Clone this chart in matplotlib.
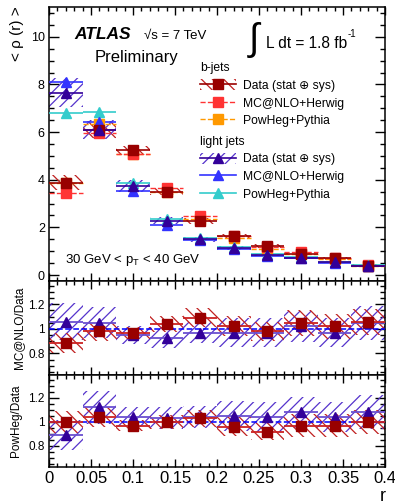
import matplotlib
matplotlib.use("Agg")
import matplotlib.pyplot as plt
import numpy as np
from matplotlib.lines import Line2D
from matplotlib.patches import Patch
from matplotlib.ticker import MultipleLocator, FuncFormatter

plt.rcParams["font.family"] = ["Liberation Sans", "DejaVu Sans"]
plt.rcParams["hatch.linewidth"] = 0.9
plt.rcParams["axes.linewidth"] = 1.1

# bins in r
edges = [0.0, 0.04, 0.08, 0.12, 0.16, 0.20, 0.24, 0.28, 0.32, 0.36, 0.40]

# b-jets, top panel
b_data = [3.88, 6.10, 5.23, 3.50, 2.28, 1.62, 1.21, 0.90, 0.70, 0.40]
b_err = [0.30, 0.35, 0.20, 0.15, 0.12, 0.10, 0.08, 0.07, 0.06, 0.05]
b_mcnlo = [3.43, 5.98, 5.07, 3.64, 2.49, 1.65, 1.19, 0.95, 0.71, 0.42]
b_powheg = [3.88, 6.34, 5.07, 3.50, 2.35, 1.56, 1.11, 0.87, 0.68, 0.40]

# light jets, top panel
l_data = [7.65, 6.10, 3.72, 2.28, 1.50, 1.12, 0.84, 0.71, 0.54, 0.38]
l_err = [0.60, 0.40, 0.25, 0.15, 0.10, 0.08, 0.06, 0.05, 0.04, 0.03]
l_mcnlo = [8.11, 6.41, 3.53, 2.12, 1.46, 1.09, 0.81, 0.72, 0.52, 0.40]
l_powheg = [6.81, 6.83, 3.87, 2.35, 1.56, 1.18, 0.87, 0.77, 0.56, 0.41]

# ratio panels
b_ratio_mcnlo = [0.885, 0.98, 0.97, 1.04, 1.09, 1.02, 0.98, 1.05, 1.02, 1.06]
l_ratio_mcnlo = [1.06, 1.05, 0.95, 0.93, 0.97, 0.97, 0.97, 1.02, 0.97, 1.05]
b_ratio_powheg = [1.00, 1.04, 0.97, 1.00, 1.03, 0.96, 0.92, 0.97, 0.97, 1.00]
l_ratio_powheg = [0.89, 1.12, 1.04, 1.03, 1.04, 1.05, 1.04, 1.08, 1.04, 1.08]
# relative half-width of the hatched bands in the ratio panels
b_rel = [0.09, 0.08, 0.05, 0.06, 0.07, 0.08, 0.08, 0.10, 0.10, 0.10]
l_rel = [0.14, 0.12, 0.08, 0.09, 0.09, 0.12, 0.12, 0.12, 0.12, 0.13]

c_bdata = "#990000"
c_bband = "#c02020"
c_bmc = "#ff3333"
c_bpow = "#ff9900"
c_ldata = "#330099"
c_lband = "#5533cc"
c_lmc = "#3333ff"
c_lpow = "#33cccc"

lo = np.array(edges[:-1])
hi = np.array(edges[1:])
ctr = (lo + hi) / 2
wid = hi - lo

W, H = 395, 504
fig = plt.figure(figsize=(W / 100, H / 100), dpi=100)
ax1 = fig.add_axes([49 / W, 1 - 281 / H, 336 / W, 274 / H])
ax2 = fig.add_axes([49 / W, 1 - 375 / H, 336 / W, 94 / H])
ax3 = fig.add_axes([49 / W, 1 - 467 / H, 336 / W, 92 / H])

HB = "\\\\\\"
HL = "///"


def band(ax, val, err, color, hatch):
    val = np.array(val)
    err = np.array(err)
    ax.bar(ctr, 2 * err, bottom=val - err, width=wid, facecolor="none",
           edgecolor=color, hatch=hatch, linewidth=0, zorder=2)


# top panel
band(ax1, b_data, b_err, c_bband, HB)
band(ax1, l_data, l_err, c_lband, HL)
ax1.hlines(b_powheg, lo, hi, colors=c_bpow, linestyles="--", lw=1.0, zorder=3)
ax1.plot(ctr, b_powheg, "s", color=c_bpow, ms=6.5, zorder=4)
ax1.hlines(b_mcnlo, lo, hi, colors=c_bmc, linestyles="--", lw=1.0, zorder=3)
ax1.plot(ctr, b_mcnlo, "s", color=c_bmc, ms=6.5, zorder=4)
ax1.hlines(l_powheg, lo, hi, colors=c_lpow, lw=1.2, zorder=3)
ax1.plot(ctr, l_powheg, "^", color=c_lpow, ms=6.5, zorder=4)
ax1.hlines(l_mcnlo, lo, hi, colors=c_lmc, lw=1.2, zorder=3)
ax1.plot(ctr, l_mcnlo, "^", color=c_lmc, ms=6.5, zorder=4)
ax1.hlines(b_data, lo, hi, colors=c_bdata, lw=1.2, zorder=5)
ax1.plot(ctr, b_data, "s", color=c_bdata, ms=6.5, zorder=6)
ax1.hlines(l_data, lo, hi, colors=c_ldata, lw=1.2, zorder=5)
ax1.plot(ctr, l_data, "^", color=c_ldata, ms=6.5, zorder=6)
ax1.set_ylim(-0.25, 11.25)


def ratio_panel(ax, b_r, l_r):
    b_r = np.array(b_r)
    l_r = np.array(l_r)
    band(ax, l_r, l_r * np.array(l_rel), c_lband, HL)
    band(ax, b_r, b_r * np.array(b_rel), c_bband, HB)
    ax.axhline(1, color="blue", ls="--", lw=1.1, zorder=3)
    ax.hlines(l_r, lo, hi, colors="#6a4fd0", lw=1.3, zorder=4)
    ax.hlines(b_r, lo, hi, colors="#cc2222", lw=1.3, zorder=4)
    ax.plot(ctr, l_r, "^", color=c_ldata, ms=6.5, zorder=5)
    ax.plot(ctr, b_r, "s", color=c_bdata, ms=6.5, zorder=5)
    ax.set_ylim(0.625, 1.39)
    ax.yaxis.set_major_locator(MultipleLocator(0.2))
    ax.yaxis.set_minor_locator(MultipleLocator(0.05))


ratio_panel(ax2, b_ratio_mcnlo, l_ratio_mcnlo)
ratio_panel(ax3, b_ratio_powheg, l_ratio_powheg)

fmt = FuncFormatter(lambda v, p: "%g" % round(v, 3))
for ax in (ax1, ax2, ax3):
    ax.set_xlim(0, 0.4)
    ax.xaxis.set_major_locator(MultipleLocator(0.05))
    ax.xaxis.set_minor_locator(MultipleLocator(0.01))
    ax.tick_params(which="both", direction="in", top=True, right=True, width=1.0)
    ax.tick_params(axis="x", which="major", length=6)
    ax.tick_params(axis="x", which="minor", length=3)
    ax.tick_params(axis="y", which="major", length=7, labelsize=8.5, pad=3)
    ax.tick_params(axis="y", which="minor", length=3.5)
    ax.yaxis.set_major_formatter(fmt)
    ax.xaxis.set_major_formatter(fmt)
ax1.yaxis.set_major_locator(MultipleLocator(2))
ax1.yaxis.set_minor_locator(MultipleLocator(0.5))
ax1.tick_params(axis="y", labelsize=9)
ax1.tick_params(axis="x", labelbottom=False)
ax2.tick_params(axis="x", labelbottom=False)
ax3.tick_params(axis="x", labelsize=12, pad=3)

# legends
fs = 8.7
lp = {"family": ["Liberation Sans", "DejaVu Sans"], "size": fs}
hb = [(Patch(facecolor="none", edgecolor=c_bband, hatch=HB, lw=0),
       Line2D([], [], color=c_bdata, marker="s", ms=6.5, lw=1.2)),
      Line2D([], [], color=c_bmc, ls="--", marker="s", ms=6.5, lw=1.0),
      Line2D([], [], color=c_bpow, ls="--", marker="s", ms=6.5, lw=1.0)]
hl = [(Patch(facecolor="none", edgecolor=c_lband, hatch=HL, lw=0),
       Line2D([], [], color=c_ldata, marker="^", ms=6.5, lw=1.2)),
      Line2D([], [], color=c_lmc, marker="^", ms=6.5, lw=1.2),
      Line2D([], [], color=c_lpow, marker="^", ms=6.5, lw=1.2)]
labels = ["Data (stat \u2295 sys)", "MC@NLO+Herwig", "PowHeg+Pythia"]
kw = dict(loc="upper left", frameon=False, prop=lp, title_fontproperties=lp,
          alignment="left", borderpad=0, borderaxespad=0, handlelength=3.0,
          handleheight=1.0, handletextpad=0.6, labelspacing=0.42)
leg1 = ax1.legend(hb, labels, title="b-jets", bbox_to_anchor=(0.449, 0.798), **kw)
ax1.add_artist(leg1)
ax1.legend(hl, labels, title="light jets", bbox_to_anchor=(0.449, 0.530), **kw)

# texts
def ftext(x, y, s, **k):
    fig.text(x / W, 1 - y / H, s, **k)

ftext(74, 39, "ATLAS", size=12.5, weight="bold", style="italic", va="baseline")
ftext(144, 39, "\u221as = 7 TeV", size=9.5, va="baseline")
ftext(95, 62, "Preliminary", size=12, va="baseline")
ftext(249, 40, "\u222b", size=27, va="center", weight="light")
ftext(266, 48, "L dt = 1.8 fb", size=11.2, va="baseline")
ftext(347.5, 37, "-1", size=7, va="baseline")
ftext(65, 263, r"30 GeV < p$_{\mathregular{T}}$ < 40 GeV", size=9.5, va="baseline")
ftext(17, 6, "< \u03c1 (r) >", size=11, rotation=90, ha="center", va="top")
ftext(19, 328, "MC@NLO/Data", size=8.5, rotation=90, ha="center", va="center")
ftext(16, 421, "PowHeg/Data", size=8.5, rotation=90, ha="center", va="center")
ftext(386, 501, "r", size=13, ha="right", va="baseline")

fig.savefig("out.png", dpi=100)
